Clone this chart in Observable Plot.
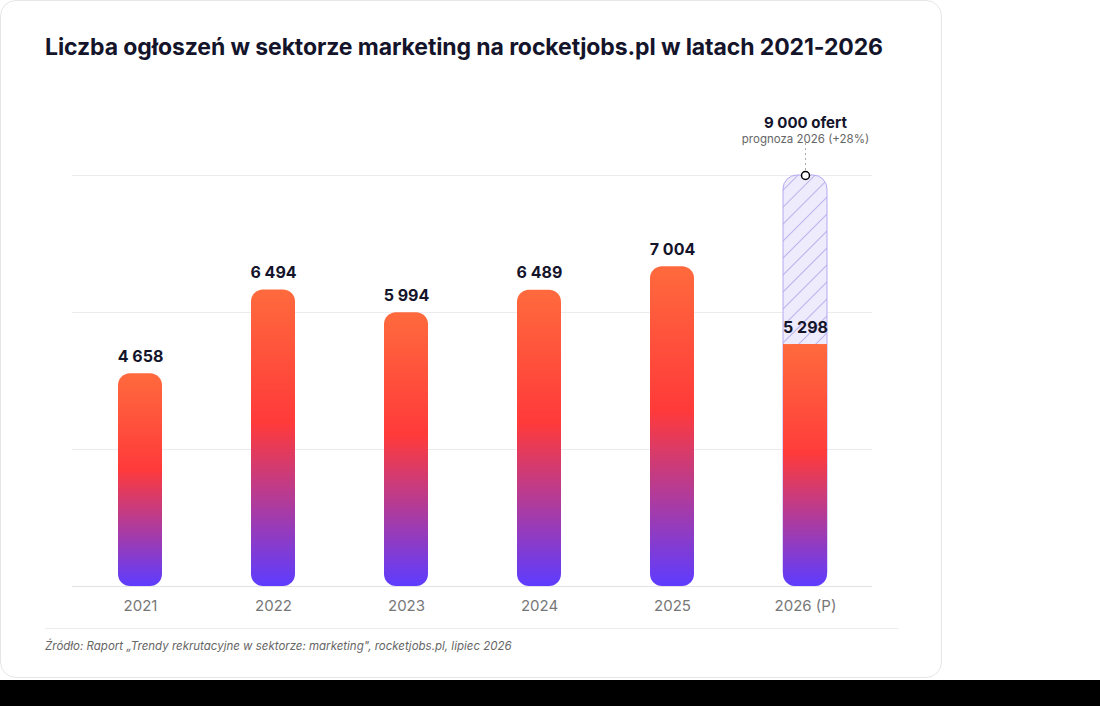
<!DOCTYPE html>
<html><head><meta charset="utf-8">
<script src="https://cdn.jsdelivr.net/npm/d3@7"></script>
<script src="https://cdn.jsdelivr.net/npm/@observablehq/plot@0.6"></script>
<style>
html,body{margin:0;padding:0;background:#fff;width:1100px;height:706px;overflow:hidden;font-family:Inter,"Noto Sans",sans-serif;}
#card{position:absolute;left:0;top:0;width:940px;height:676px;border:1px solid #e6e6ea;border-radius:16px;background:#fff;}
#title{position:absolute;left:45px;top:33px;font-size:23px;font-weight:700;color:#14142b;letter-spacing:-0.1px;}
#chart{position:absolute;left:0;top:90px;}
#sep{position:absolute;left:45px;top:628px;width:853px;height:1px;background:#ececf0;}
#src{position:absolute;left:45px;top:639px;font-size:11.5px;font-style:italic;color:#666;}
#black{position:absolute;left:0;top:680px;width:1100px;height:26px;background:#000;}
</style></head><body>
<div id="card"></div>
<div id="title">Liczba ogłoszeń w sektorze marketing na rocketjobs.pl w latach 2021-2026</div>
<div id="chart"></div>
<div id="sep"></div>
<div id="src">Źródło: Raport „Trendy rekrutacyjne w sektorze: marketing", rocketjobs.pl, lipiec 2026</div>
<div id="black"></div>
<script>
const years = ["2021","2022","2023","2024","2025","2026 (P)"];
const values = [4658, 6494, 5994, 6489, 7004, 5298];
const forecastYear = "2026 (P)";
const forecastValue = 9000;
const forecastLabel = "9 000 ofert";
const forecastSub = "prognoza 2026 (+28%)";
const gridTicks = [0, 3000, 6000, 9000];

const fmt = v => d3.format(",")(v).replace(/,/g, " ");
const data = years.map((y,i)=>({year:y, value:values[i]}));
const actual = data.filter(d=>d.year!==forecastYear);
const cur = data.filter(d=>d.year===forecastYear);
const fc = [{year:forecastYear, value:forecastValue}];

const plot = Plot.plot({
  width: 942, height: 530,
  marginLeft: 72, marginRight: 70, marginTop: 85, marginBottom: 34,
  x: {domain: years, paddingInner: 0.67, paddingOuter: 0.335, label: null, tickSize: 0, tickPadding: 14},
  y: {domain: [0, 9000], axis: null},
  style: {fontFamily: "Inter, sans-serif", fontSize: "15px", color: "#777"},
  marks: [
    Plot.ruleY(gridTicks, {stroke: "#ececf0", strokeWidth: 1}),
    Plot.barY(fc, {x:"year", y:"value", fill:"url(#hatch)", stroke:"#b4a9f2", strokeWidth:1, rx: 14}),
    Plot.barY(actual, {x:"year", y:"value", fill:"url(#grad)", rx: 12}),
    Plot.barY(cur, {x:"year", y:"value", fill:"url(#grad)", rx: 12}),
    Plot.barY(cur, {x:"year", y1: 3000, y2:"value", fill:"url(#grad2)"}),
    Plot.text(actual, {x:"year", y:"value", text:d=>fmt(d.value), dy:-17, fontSize:16, fontWeight:700, fill:"#14142b"}),
    Plot.text(cur, {x:"year", y:"value", text:d=>fmt(d.value), dy:-17, fontSize:16, fontWeight:700, fill:"#14142b"}),
    Plot.ruleX(fc, {x:"year", y1:"value", y2: 9750, stroke:"#aaa", strokeDasharray:"2,3"}),
    Plot.dot(fc, {x:"year", y:"value", r:4, fill:"#fff", stroke:"#000", strokeWidth:1.5}),
    Plot.text(fc, {x:"year", y:"value", text:()=>forecastLabel, dy:-52, fontSize:15, fontWeight:700, fill:"#14142b"}),
    Plot.text(fc, {x:"year", y:"value", text:()=>forecastSub, dy:-36, fontSize:11.5, fill:"#666", letterSpacing:"0.4px"}),
    Plot.ruleY([0], {stroke:"#e2e2e6"})
  ]
});
const svg = d3.select(plot);
const defs = svg.insert("defs", ":first-child");
const g = defs.append("linearGradient").attr("id","grad").attr("x1",0).attr("y1",0).attr("x2",0).attr("y2",1);
g.append("stop").attr("offset","0%").attr("stop-color","#ff6a3d");
g.append("stop").attr("offset","45%").attr("stop-color","#ff3a3a");
g.append("stop").attr("offset","100%").attr("stop-color","#5e3cff");
const g2 = defs.append("linearGradient").attr("id","grad2").attr("x1",0).attr("y1",0).attr("x2",0).attr("y2",1);
g2.append("stop").attr("offset","0%").attr("stop-color","#ff6a3d");
g2.append("stop").attr("offset","100%").attr("stop-color","#ff3f3b");
const p = defs.append("pattern").attr("id","hatch").attr("patternUnits","userSpaceOnUse").attr("width",12).attr("height",12).attr("patternTransform","rotate(45)");
p.append("rect").attr("width",12).attr("height",12).attr("fill","#eeebfc");
p.append("line").attr("x1",0).attr("y1",0).attr("x2",0).attr("y2",12).attr("stroke","#9d90e6").attr("stroke-width",1.2);
document.getElementById("chart").appendChild(plot);
</script>
</body></html>
